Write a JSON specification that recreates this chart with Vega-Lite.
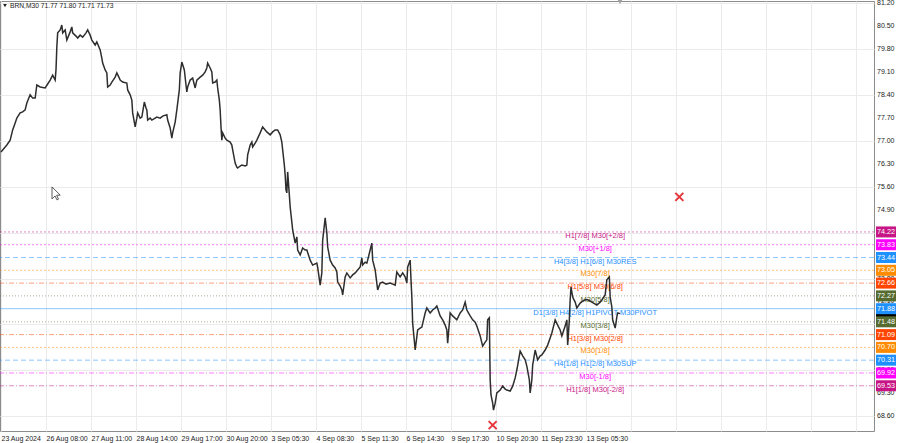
{
  "$schema": "https://vega.github.io/schema/vega-lite/v6.json",
  "width": 874,
  "height": 430,
  "autosize": {"type": "none"},
  "padding": {"left": 0, "top": 1, "right": 26, "bottom": 12},
  "background": "white",
  "config": {
    "view": {"stroke": "#8c8c8c", "strokeWidth": 1},
    "font": "Liberation Sans",
    "axis": {"title": null, "grid": true, "gridColor": "#ebebeb", "gridWidth": 1, "domain": false, "ticks": false,
             "labelFontSize": 7, "labelColor": "#222", "labelFont": "Liberation Sans",
             "labelOverlap": false, "labelFlush": false, "labelBound": false, "labelPadding": 3},
    "axisX": {"labelAlign": "left", "labelBaseline": "top"},
    "axisY": {"labels": false}
  },
  "datasets": {
    "bars": [
      {"i":0,"p":76.66},{"i":2,"p":76.72},{"i":7,"p":76.87},{"i":11,"p":77.02},{"i":14,"p":77.33},{"i":17,"p":77.54},{"i":19,"p":77.69},{"i":23,"p":77.85},{"i":26,"p":77.88},{"i":29,"p":77.94},{"i":31,"p":78.15},{"i":35,"p":78.40},{"i":38,"p":78.30},{"i":41,"p":78.30},{"i":43,"p":78.70},{"i":47,"p":78.64},{"i":53,"p":78.61},{"i":56,"p":78.73},{"i":59,"p":78.85},{"i":62,"p":79.00},{"i":65,"p":78.85},{"i":66,"p":79.16},{"i":67,"p":79.86},{"i":68,"p":80.29},{"i":71,"p":80.38},{"i":73,"p":80.53},{"i":74,"p":80.29},{"i":77,"p":80.38},{"i":79,"p":80.07},{"i":83,"p":80.32},{"i":85,"p":80.47},{"i":86,"p":80.29},{"i":90,"p":80.19},{"i":92,"p":80.13},{"i":95,"p":80.22},{"i":98,"p":80.16},{"i":102,"p":80.29},{"i":104,"p":80.38},{"i":107,"p":80.22},{"i":109,"p":80.07},{"i":113,"p":79.92},{"i":115,"p":80.01},{"i":119,"p":79.77},{"i":121,"p":79.52},{"i":122,"p":79.37},{"i":125,"p":79.16},{"i":127,"p":79.07},{"i":128,"p":78.64},{"i":131,"p":78.70},{"i":133,"p":78.79},{"i":137,"p":78.94},{"i":139,"p":79.07},{"i":142,"p":78.91},{"i":143,"p":78.85},{"i":146,"p":78.79},{"i":151,"p":78.76},{"i":152,"p":78.55},{"i":155,"p":78.40},{"i":157,"p":78.24},{"i":158,"p":77.85},{"i":161,"p":77.42},{"i":163,"p":77.69},{"i":164,"p":77.85},{"i":167,"p":77.69},{"i":169,"p":77.72},{"i":172,"p":78.18},{"i":174,"p":78.00},{"i":175,"p":77.94},{"i":176,"p":77.63},{"i":179,"p":77.69},{"i":181,"p":77.63},{"i":185,"p":77.69},{"i":187,"p":77.72},{"i":191,"p":77.69},{"i":194,"p":77.75},{"i":199,"p":77.79},{"i":200,"p":77.63},{"i":203,"p":77.39},{"i":205,"p":77.08},{"i":206,"p":77.24},{"i":209,"p":77.57},{"i":211,"p":77.94},{"i":214,"p":78.55},{"i":215,"p":79.07},{"i":217,"p":79.40},{"i":220,"p":79.16},{"i":222,"p":78.70},{"i":223,"p":78.49},{"i":224,"p":78.64},{"i":227,"p":78.85},{"i":230,"p":78.91},{"i":233,"p":78.61},{"i":235,"p":78.85},{"i":239,"p":78.94},{"i":242,"p":79.00},{"i":245,"p":79.10},{"i":247,"p":79.22},{"i":248,"p":79.37},{"i":251,"p":79.22},{"i":253,"p":79.10},{"i":254,"p":78.76},{"i":257,"p":78.79},{"i":259,"p":78.85},{"i":260,"p":78.61},{"i":262,"p":78.24},{"i":263,"p":77.94},{"i":264,"p":77.42},{"i":265,"p":77.02},{"i":266,"p":77.24},{"i":269,"p":77.08},{"i":271,"p":77.02},{"i":275,"p":76.96},{"i":277,"p":76.87},{"i":278,"p":76.72},{"i":281,"p":76.32},{"i":283,"p":76.20},{"i":284,"p":76.17},{"i":287,"p":76.23},{"i":289,"p":76.26},{"i":293,"p":76.23},{"i":295,"p":76.26},{"i":296,"p":76.57},{"i":299,"p":76.87},{"i":301,"p":76.96},{"i":302,"p":76.81},{"i":305,"p":76.93},{"i":307,"p":77.02},{"i":311,"p":77.24},{"i":314,"p":77.42},{"i":317,"p":77.33},{"i":319,"p":77.27},{"i":323,"p":77.18},{"i":326,"p":77.27},{"i":329,"p":77.33},{"i":332,"p":77.33},{"i":335,"p":77.18},{"i":337,"p":76.96},{"i":338,"p":76.72},{"i":340,"p":76.26},{"i":341,"p":75.96},{"i":342,"p":75.50},{"i":343,"p":75.41},{"i":344,"p":76.05},{"i":346,"p":75.35},{"i":347,"p":74.98},{"i":349,"p":74.52},{"i":350,"p":74.28},{"i":353,"p":73.88},{"i":355,"p":74.07},{"i":356,"p":73.67},{"i":359,"p":73.52},{"i":362,"p":73.73},{"i":365,"p":73.67},{"i":367,"p":73.67},{"i":371,"p":73.36},{"i":374,"p":73.21},{"i":379,"p":73.27},{"i":380,"p":73.15},{"i":383,"p":72.60},{"i":385,"p":72.97},{"i":386,"p":73.97},{"i":389,"p":74.65},{"i":391,"p":74.19},{"i":392,"p":73.76},{"i":395,"p":73.36},{"i":398,"p":73.21},{"i":401,"p":73.12},{"i":403,"p":73.00},{"i":404,"p":72.69},{"i":407,"p":72.57},{"i":409,"p":72.45},{"i":410,"p":72.30},{"i":413,"p":72.85},{"i":415,"p":72.97},{"i":419,"p":72.82},{"i":422,"p":72.91},{"i":425,"p":72.97},{"i":428,"p":73.06},{"i":431,"p":73.15},{"i":433,"p":73.43},{"i":434,"p":73.21},{"i":437,"p":73.30},{"i":439,"p":73.27},{"i":440,"p":73.36},{"i":443,"p":73.67},{"i":445,"p":73.88},{"i":446,"p":73.36},{"i":449,"p":73.06},{"i":451,"p":72.66},{"i":452,"p":72.45},{"i":455,"p":72.66},{"i":458,"p":72.69},{"i":462,"p":72.63},{"i":467,"p":72.66},{"i":470,"p":72.63},{"i":473,"p":72.60},{"i":475,"p":73.00},{"i":479,"p":72.85},{"i":482,"p":72.97},{"i":485,"p":72.85},{"i":487,"p":72.66},{"i":488,"p":73.15},{"i":491,"p":73.36},{"i":492,"p":72.76},{"i":493,"p":72.24},{"i":494,"p":71.44},{"i":497,"p":70.62},{"i":499,"p":71.02},{"i":500,"p":71.23},{"i":503,"p":71.29},{"i":505,"p":71.32},{"i":509,"p":71.75},{"i":511,"p":71.90},{"i":515,"p":71.75},{"i":518,"p":71.84},{"i":521,"p":71.90},{"i":523,"p":71.96},{"i":527,"p":71.66},{"i":530,"p":71.54},{"i":533,"p":71.38},{"i":535,"p":71.23},{"i":536,"p":70.83},{"i":539,"p":71.75},{"i":542,"p":71.66},{"i":547,"p":71.54},{"i":551,"p":71.75},{"i":554,"p":71.84},{"i":557,"p":72.08},{"i":559,"p":71.84},{"i":563,"p":71.66},{"i":566,"p":71.54},{"i":569,"p":71.47},{"i":571,"p":71.35},{"i":575,"p":71.05},{"i":578,"p":70.74},{"i":581,"p":70.86},{"i":583,"p":70.93},{"i":584,"p":71.54},{"i":586,"p":71.60},{"i":587,"p":69.71},{"i":588,"p":69.25},{"i":590,"p":69.00},{"i":591,"p":68.79},{"i":593,"p":69.00},{"i":595,"p":69.31},{"i":599,"p":69.40},{"i":602,"p":69.52},{"i":605,"p":69.43},{"i":607,"p":69.40},{"i":611,"p":69.37},{"i":614,"p":69.52},{"i":617,"p":69.77},{"i":619,"p":70.01},{"i":623,"p":70.59},{"i":626,"p":70.44},{"i":629,"p":70.32},{"i":631,"p":70.13},{"i":634,"p":69.71},{"i":635,"p":69.31},{"i":637,"p":69.71},{"i":638,"p":70.16},{"i":641,"p":70.62},{"i":644,"p":70.32},{"i":647,"p":70.44},{"i":649,"p":70.47},{"i":653,"p":70.62},{"i":656,"p":70.77},{"i":659,"p":70.99},{"i":661,"p":71.14},{"i":665,"p":71.54},{"i":668,"p":71.38},{"i":671,"p":71.23},{"i":673,"p":71.05},{"i":677,"p":71.35},{"i":679,"p":71.54},{"i":680,"p":70.77},{"i":682,"p":71.54},{"i":683,"p":72.15},{"i":684,"p":72.54},{"i":686,"p":72.24},{"i":687,"p":72.18},{"i":689,"p":72.08},{"i":691,"p":71.90},{"i":695,"p":72.05},{"i":698,"p":72.11},{"i":701,"p":72.15},{"i":704,"p":72.15},{"i":707,"p":72.11},{"i":709,"p":72.08},{"i":713,"p":72.02},{"i":715,"p":71.99},{"i":719,"p":72.08},{"i":721,"p":72.15},{"i":725,"p":72.30},{"i":727,"p":72.76},{"i":730,"p":72.85},{"i":731,"p":72.24},{"i":733,"p":71.93},{"i":734,"p":71.54},{"i":737,"p":71.29},{"i":738,"p":71.44},{"i":739,"p":71.63},{"i":740,"p":71.75},{"i":743,"p":71.73}
    ],
    "levels": [
      {"p":74.22,"label":"H1[7/8] M30[+2/8]","kind":"extreme","octave":"+2/8"},
      {"p":73.83,"label":"M30[+1/8]","kind":"overshoot","octave":"+1/8"},
      {"p":73.44,"label":"H4[3/8] H1[6/8] M30RES","kind":"major","octave":"8/8"},
      {"p":73.05,"label":"M30[7/8]","kind":"weak","octave":"7/8"},
      {"p":72.66,"label":"H1[5/8] M30[6/8]","kind":"reverse","octave":"6/8"},
      {"p":72.27,"label":"M30[5/8]","kind":"range","octave":"5/8"},
      {"p":71.88,"label":"D1[3/8] H4[2/8] H1PIVOT M30PIVOT","kind":"major","octave":"4/8"},
      {"p":71.48,"label":"M30[3/8]","kind":"range","octave":"3/8"},
      {"p":71.09,"label":"H1[3/8] M30[2/8]","kind":"reverse","octave":"2/8"},
      {"p":70.70,"label":"M30[1/8]","kind":"weak","octave":"1/8"},
      {"p":70.31,"label":"H4[1/8] H1[2/8] M30SUP","kind":"major","octave":"0/8"},
      {"p":69.92,"label":"M30[-1/8]","kind":"overshoot","octave":"-1/8"},
      {"p":69.53,"label":"H1[1/8] M30[-2/8]","kind":"extreme","octave":"-2/8"}
    ],
    "yticks": [{"p":68.6},{"p":69.3},{"p":70.0},{"p":70.7},{"p":71.4},{"p":72.1},{"p":72.8},{"p":73.5},{"p":74.2},{"p":74.9},{"p":75.6},{"p":76.3},{"p":77.0},{"p":77.7},{"p":78.4},{"p":79.1},{"p":79.8},{"p":80.5},{"p":81.2}],
    "crosses": [{"i":590,"p":68.33},{"i":814,"p":75.29}],
    "current": [{"p":71.73}]
  },
  "layer": [
    {
      "data": {"name": "levels"},
      "mark": {"type": "rule", "strokeWidth": 1, "opacity": 0.5},
      "encoding": {
        "y": {"field": "p", "type": "quantitative",
          "scale": {"domain": [68.151, 81.261], "nice": false, "zero": false},
          "axis": {"orient": "right", "values": [68.6,69.3,70,70.7,71.4,72.1,72.8,73.5,74.2,74.9,75.6,76.3,77,77.7,78.4,79.1,79.8,80.5,81.2], "labels": false}},
        "color": {"field": "kind", "type": "nominal", "legend": null,
          "scale": {"domain": ["extreme","overshoot","major","weak","reverse","range"],
                    "range": ["#C71585","#FF00FF","#1E90FF","#FF8C00","#FF4500","#556B2F"]}},
        "strokeDash": {"field": "octave", "type": "nominal", "legend": null,
          "scale": {"domain": ["+2/8","+1/8","8/8","7/8","6/8","5/8","4/8","3/8","2/8","1/8","0/8","-1/8","-2/8"],
                    "range": [[2,2],[2,2],[5,3],[2,2],[5,2,1,2],[1,2],[1,0],[1,2],[5,2,1,2],[2,2],[5,3],[5,2,1,2],[5,2,1,2]]}}
      }
    },
    {
      "data": {"name": "levels"},
      "mark": {"type": "text", "fontSize": 7.5, "font": "Liberation Sans", "align": "center", "baseline": "middle", "dy": 4},
      "encoding": {
        "x": {"datum": 713, "type": "quantitative"},
        "y": {"field": "p", "type": "quantitative"},
        "text": {"field": "label"},
        "color": {"field": "kind", "type": "nominal", "legend": null}
      }
    },
    {
      "data": {"name": "bars"},
      "mark": {"type": "line", "color": "#2e2e2e", "strokeWidth": 1.5},
      "encoding": {
        "x": {"field": "i", "type": "quantitative",
          "scale": {"domain": [-1.2, 1047.6], "nice": false, "zero": false},
          "axis": {"values": [0,27,54,81,108,135,162,189,216,243,270,297,324,351,378,405,432,459,486,513,540,567,594,621,648,675,702,729,756,783,810,837,864,891,918,945,972,999,1026],
            "labelExpr": "(datum.value % 54 == 0 && datum.value <= 702) ? ['23 Aug 2024','26 Aug 08:00','27 Aug 11:00','28 Aug 14:00','29 Aug 17:00','30 Aug 20:00','3 Sep 05:30','4 Sep 08:30','5 Sep 11:30','6 Sep 14:30','9 Sep 17:30','10 Sep 20:30','11 Sep 23:30','13 Sep 05:30'][datum.value / 54] : ''"}},
        "y": {"field": "p", "type": "quantitative"}
      }
    },
    {
      "data": {"name": "crosses"},
      "mark": {"type": "point", "shape": "M-1,-1L1,1M-1,1L1,-1", "size": 64, "filled": false, "stroke": "#E5363C", "strokeWidth": 2, "opacity": 1},
      "encoding": {
        "x": {"field": "i", "type": "quantitative"},
        "y": {"field": "p", "type": "quantitative"}
      }
    },
    {
      "data": {"name": "yticks"},
      "mark": {"type": "text", "fontSize": 7, "font": "Liberation Sans", "align": "left", "baseline": "middle", "color": "#222"},
      "encoding": {
        "x": {"datum": 1051.2, "type": "quantitative"},
        "y": {"field": "p", "type": "quantitative"},
        "text": {"field": "p", "type": "quantitative", "format": ".2f"}
      }
    },
    {
      "data": {"name": "current"},
      "mark": {"type": "rect", "height": 11, "color": "#000000"},
      "encoding": {
        "x": {"datum": 1050, "type": "quantitative"},
        "x2": {"datum": 1074},
        "y": {"field": "p", "type": "quantitative"}
      }
    },
    {
      "data": {"name": "levels"},
      "mark": {"type": "rect", "height": 11},
      "encoding": {
        "x": {"datum": 1050, "type": "quantitative"},
        "x2": {"datum": 1074},
        "y": {"field": "p", "type": "quantitative"},
        "color": {"field": "kind", "type": "nominal", "legend": null}
      }
    },
    {
      "data": {"name": "levels"},
      "mark": {"type": "text", "fontSize": 7.2, "font": "Liberation Sans", "align": "center", "baseline": "middle", "color": "white"},
      "encoding": {
        "x": {"datum": 1062, "type": "quantitative"},
        "y": {"field": "p", "type": "quantitative"},
        "text": {"field": "p", "type": "quantitative", "format": ".2f"}
      }
    },
    {
      "data": {"values": [{"t": "BRN,M30 71.77 71.80 71.71 71.73"}]},
      "mark": {"type": "text", "fontSize": 6.7, "font": "Liberation Sans", "align": "left", "baseline": "middle", "color": "#222"},
      "encoding": {
        "x": {"datum": 10.8, "type": "quantitative"},
        "y": {"datum": 81.12, "type": "quantitative"},
        "text": {"field": "t"}
      }
    },
    {
      "data": {"values": [{"k": "menu"}]},
      "mark": {"type": "point", "shape": "triangle-down", "size": 14, "filled": true, "color": "#222", "opacity": 1},
      "encoding": {
        "x": {"datum": 4.8, "type": "quantitative"},
        "y": {"datum": 81.12, "type": "quantitative"}
      }
    },
    {
      "data": {"values": [{"k": "shift"}]},
      "mark": {"type": "point", "shape": "triangle-down", "size": 28, "filled": true, "color": "#a0a0a0", "opacity": 1},
      "encoding": {
        "x": {"datum": 742.8, "type": "quantitative"},
        "y": {"datum": 81.24, "type": "quantitative"}
      }
    },
    {
      "data": {"values": [{"k": "cursor"}]},
      "mark": {"type": "point", "shape": "M-1,-1L-1,1L-0.5,0.5L-0.17,1.17L0.08,1.05L-0.22,0.38L0.38,0.38Z", "size": 144, "filled": true, "fill": "white", "stroke": "#333", "strokeWidth": 0.8, "opacity": 1},
      "encoding": {
        "x": {"datum": 68.4, "type": "quantitative"},
        "y": {"datum": 75.41, "type": "quantitative"}
      }
    }
  ]
}
